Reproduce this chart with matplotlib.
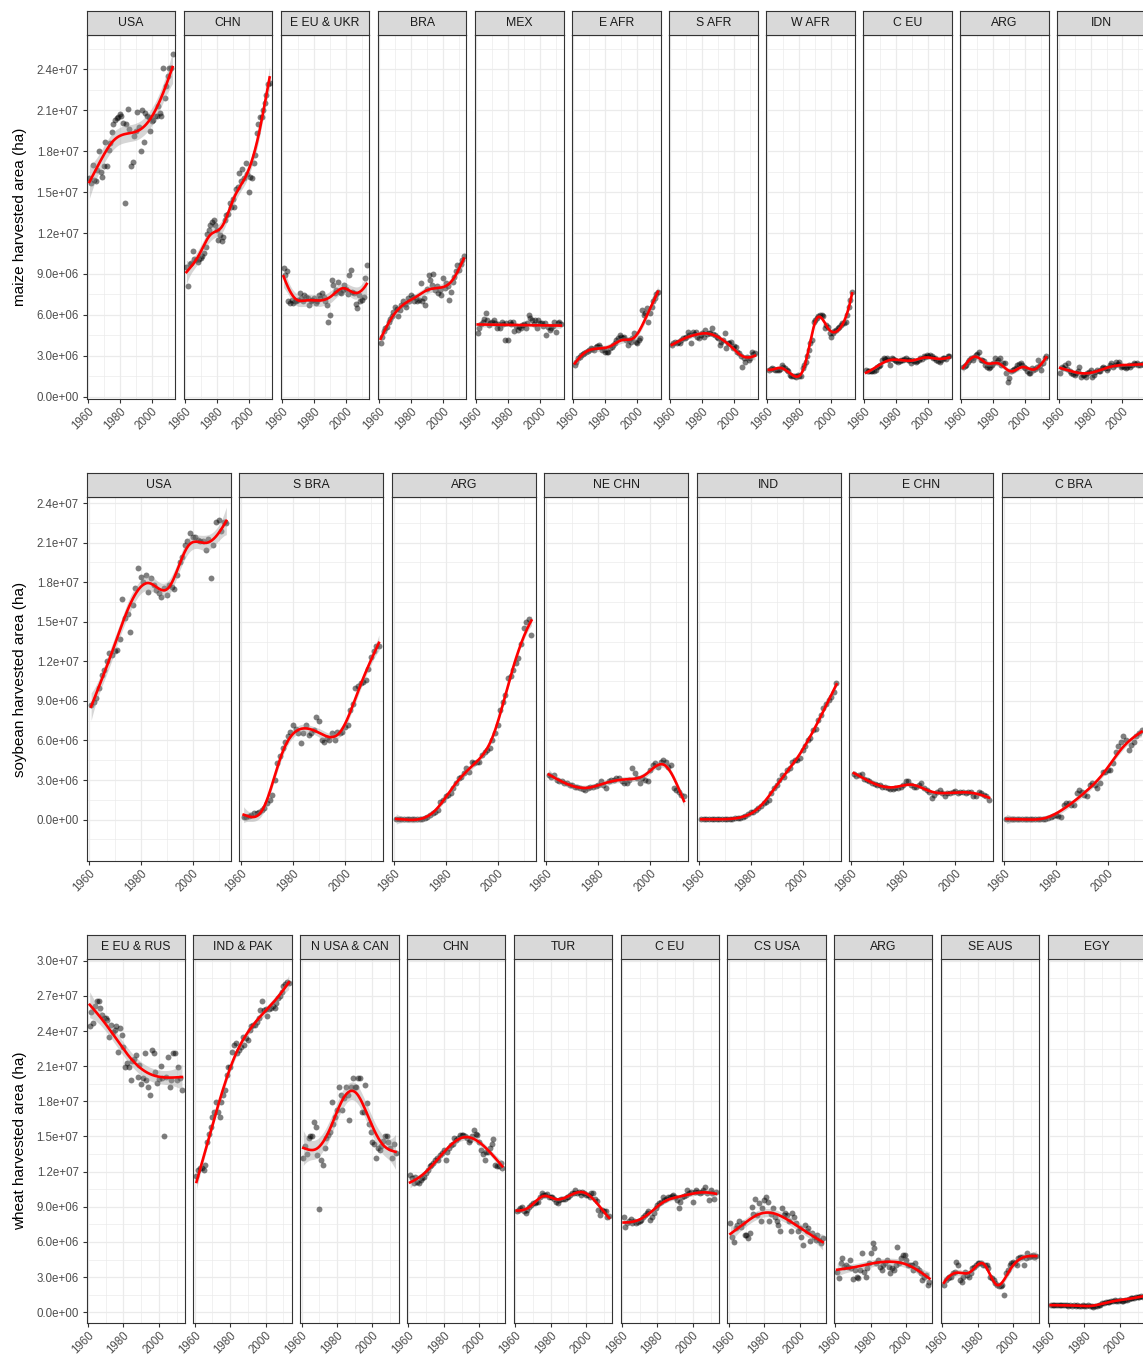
import numpy as np
import matplotlib
matplotlib.use('Agg')
import matplotlib.pyplot as plt
from matplotlib.ticker import FuncFormatter

plt.rcParams['font.family'] = ['Liberation Sans', 'DejaVu Sans']

# harvested area per year from 1961, in million ha
maize_usa = [16.0, 15.7, 17.0, 15.9, 15.8, 16.6, 18.0, 16.5, 16.1, 16.9,
             18.7, 16.9, 18.1, 18.6, 19.4, 20.0, 20.3, 20.4, 20.5, 20.7,
             20.6, 20.1, 14.2, 20.0, 21.1, 19.6, 16.9, 17.2, 19.1, 19.5,
             20.9, 19.8, 18.0, 21.0, 18.7, 20.8, 20.6, 20.5, 19.5, 20.2,
             20.3, 20.6, 20.6, 21.3, 20.8, 20.6, 24.1, 21.9, 22.8, 23.5,
             24.1, 24.1, 25.1]
maize_chn = [9.5, 8.1, 9.7, 9.8, 10.7, 10.1, 10.0, 9.9, 10.1, 10.2,
             10.3, 10.5, 11.0, 11.9, 12.2, 12.6, 12.8, 12.95, 12.6, 12.2,
             11.5, 11.85, 11.4, 11.7, 12.95, 13.3, 13.4, 14.2, 13.9, 14.5,
             13.9, 15.2, 15.4, 16.4, 15.8, 16.7, 16.0, 17.1, 16.3, 15.0,
             16.1, 16.0, 17.1, 17.7, 19.3, 20.0, 20.5, 20.5, 21.0, 21.5,
             22.1, 22.9, 23.0]
maize_eeu = [9.4, 8.9, 9.2, 7.0, 6.9, 7.1, 6.9, 7.0, 7.0, 7.1,
             7.6, 7.2, 7.0, 7.45, 7.3, 7.2, 6.7, 7.0, 7.1, 7.2,
             6.9, 7.0, 7.45, 7.2, 7.6, 7.3, 7.0, 6.7, 5.5, 6.0,
             8.55, 8.2, 7.6, 7.8, 8.4, 7.7, 7.6, 7.8, 8.2, 7.9,
             7.5, 8.9, 9.3, 7.7, 7.6, 6.8, 6.5, 7.45, 7.0, 7.1,
             7.3, 8.7, 9.65]
maize_bra = [3.9, 4.4, 4.8, 5.0, 5.1, 5.5, 5.7, 5.9, 6.2, 6.6,
             6.4, 5.9, 6.35, 6.7, 7.0, 6.8, 6.6, 7.2, 7.0, 7.45,
             7.3, 7.0, 7.2, 7.0, 7.1, 8.3, 7.0, 7.2, 6.7, 7.9,
             8.9, 8.55, 8.2, 9.0, 7.8, 8.1, 7.6, 7.8, 7.45, 8.7,
             8.0, 8.3, 8.1, 7.1, 7.7, 8.4, 8.8, 9.2, 9.65, 9.3,
             9.7, 10.0, 10.3]
maize_mex = [4.7, 5.0, 5.3, 5.5, 5.7, 6.1, 5.6, 5.25, 5.4, 5.5,
             5.6, 5.4, 5.0, 5.3, 5.0, 5.5, 5.3, 4.15, 5.4, 4.15,
             5.5, 5.3, 5.5, 4.8, 5.2, 4.9, 5.1, 5.0, 5.25, 5.3,
             5.0, 5.4, 6.0, 5.75, 5.6, 5.3, 5.6, 5.0, 5.6, 5.4,
             5.4, 5.2, 5.4, 4.5, 5.1, 4.9, 5.0, 5.2, 5.5, 4.75,
             5.4, 5.5, 5.3]
maize_eafr = [2.3, 2.55, 2.8, 2.9, 3.05, 3.1, 3.2, 3.3, 3.35, 3.4,
              3.55, 3.5, 3.4, 3.65, 3.7, 3.8, 3.65, 3.4, 3.5, 3.3,
              3.3, 3.3, 3.55, 3.65, 3.8, 3.9, 4.15, 4.3, 4.5, 4.4,
              4.3, 4.4, 4.15, 3.8, 4.15, 4.0, 4.3, 4.65, 4.0, 3.9,
              4.15, 4.3, 6.35, 6.0, 6.1, 6.5, 5.5, 6.1, 6.6, 7.0,
              7.2, 7.5, 7.7]
maize_safr = [3.8, 3.9, 4.0, 3.9, 4.0, 3.9, 4.15, 4.3, 4.3, 4.4,
              4.75, 4.5, 3.9, 4.75, 4.6, 4.75, 4.4, 4.3, 4.5, 4.65,
              4.4, 4.9, 4.6, 4.65, 4.7, 5.0, 4.6, 4.5, 4.4, 4.3,
              3.8, 4.0, 4.15, 4.65, 3.55, 3.9, 3.9, 4.0, 3.55, 3.7,
              3.65, 3.3, 3.2, 3.0, 2.2, 2.8, 2.55, 2.9, 2.7, 2.8,
              3.3, 3.1, 3.2]
maize_wafr = [1.95, 2.0, 2.1, 2.05, 1.95, 1.95, 1.95, 2.0, 2.3, 2.2,
              2.1, 1.95, 1.9, 1.6, 1.55, 1.5, 1.5, 1.45, 1.6, 1.5,
              1.5, 2.1, 2.3, 2.55, 3.0, 3.4, 3.9, 4.15, 5.5, 5.6,
              5.75, 5.9, 6.0, 6.0, 5.9, 5.0, 5.25, 5.1, 4.65, 4.4,
              4.65, 4.8, 4.9, 5.0, 5.1, 5.25, 5.4, 5.4, 5.5, 6.0,
              6.6, 7.1, 7.7]
maize_ceu = [1.95, 1.9, 1.85, 1.85, 1.85, 1.9, 1.95, 2.2, 2.25, 2.3,
             2.7, 2.8, 2.75, 2.8, 2.7, 2.3, 2.8, 2.75, 2.7, 2.6,
             2.55, 2.6, 2.7, 2.7, 2.75, 2.8, 2.7, 2.7, 2.45, 2.7,
             2.6, 2.55, 2.65, 2.7, 2.8, 2.75, 2.95, 2.9, 3.05, 3.0,
             3.05, 2.95, 2.85, 2.8, 2.7, 2.6, 2.55, 2.7, 2.8, 2.8,
             2.75, 3.0, 2.95]
maize_arg = [2.2, 2.25, 2.3, 2.55, 2.7, 2.8, 2.7, 2.9, 3.05, 3.1,
             3.3, 2.7, 2.7, 2.6, 2.3, 2.2, 2.1, 2.2, 2.3, 2.45,
             2.8, 2.55, 2.7, 2.8, 2.3, 2.45, 2.45, 1.7, 1.1, 1.35,
             1.85, 1.95, 2.0, 2.1, 2.3, 2.4, 2.45, 2.3, 2.2, 2.1,
             1.85, 1.7, 1.7, 2.1, 1.95, 2.0, 2.2, 2.7, 2.3, 1.95,
             2.5, 2.8, 2.95]
maize_idn = [1.7, 2.2, 2.1, 2.3, 2.0, 2.45, 1.85, 1.7, 1.65, 1.6,
             1.7, 1.9, 2.2, 1.45, 1.6, 1.6, 1.45, 1.7, 1.8, 1.95,
             1.45, 1.6, 1.8, 1.95, 1.85, 1.9, 2.1, 2.2, 2.1, 1.95,
             2.1, 2.3, 2.45, 2.2, 2.3, 2.55, 2.4, 2.55, 2.2, 2.25,
             2.2, 2.1, 2.2, 2.3, 2.2, 2.3, 2.45, 2.4, 2.45, 2.35,
             2.3, 2.4, 2.4]

soy_usa = [8.7, 8.9, 9.2, 9.95, 11.0, 11.35, 12.0, 12.6, 12.5, 12.75,
           12.85, 13.7, 16.7, 15.3, 15.6, 14.25, 16.3, 17.55, 19.1, 18.4,
           18.0, 18.55, 17.25, 18.3, 17.8, 17.4, 17.15, 16.9, 17.55, 17.0,
           17.8, 17.6, 17.45, 18.55, 19.5, 19.95, 20.8, 21.1, 21.7, 21.45,
           21.45, 21.2, 21.1, 21.1, 20.45, 21.3, 18.3, 20.8, 22.6, 22.7,
           21.85, 22.55, 22.5]
soy_sbra = [0.23, 0.23, 0.28, 0.35, 0.48, 0.53, 0.6, 0.73, 0.86, 1.24,
            1.5, 1.87, 3.0, 4.27, 4.8, 5.4, 5.9, 6.3, 6.65, 7.2,
            6.9, 6.55, 5.8, 6.55, 7.2, 6.4, 6.55, 6.8, 7.8, 7.45,
            6.05, 5.9, 6.15, 6.05, 6.55, 6.05, 6.65, 6.55, 6.65, 7.05,
            7.2, 8.3, 8.8, 9.95, 10.1, 10.35, 10.45, 10.6, 11.45, 12.35,
            12.75, 13.15, 13.2]
soy_arg = [0.02, 0.02, 0.02, 0.01, 0.01, 0.01, 0.02, 0.02, 0.03, 0.03,
           0.04, 0.1, 0.23, 0.35, 0.5, 0.6, 0.7, 1.36, 1.5, 1.8,
           1.9, 2.0, 2.4, 2.75, 3.13, 3.26, 3.5, 3.9, 3.64, 4.4,
           4.27, 4.4, 4.4, 4.9, 5.15, 5.3, 5.4, 6.05, 6.55, 7.2,
           8.3, 8.95, 9.45, 10.7, 10.85, 11.35, 11.85, 12.25, 13.35, 14.5,
           15.0, 15.2, 14.0]
soy_nechn = [3.4, 3.25, 3.4, 3.0, 2.9, 2.9, 2.75, 2.75, 2.65, 2.6,
             2.5, 2.5, 2.4, 2.3, 2.25, 2.4, 2.5, 2.5, 2.55, 2.65,
             2.9, 2.65, 2.4, 2.9, 3.0, 3.0, 3.13, 3.13, 2.9, 2.75,
             2.75, 3.0, 3.9, 3.5, 3.13, 2.75, 3.13, 3.0, 2.9, 3.77,
             4.15, 4.27, 4.0, 4.4, 4.5, 4.4, 4.0, 4.15, 2.4, 2.25,
             2.1, 1.9, 1.75]
soy_ind = [0.02, 0.02, 0.02, 0.02, 0.02, 0.02, 0.02, 0.03, 0.03, 0.03,
           0.03, 0.05, 0.07, 0.1, 0.1, 0.12, 0.2, 0.25, 0.4, 0.6,
           0.55, 0.7, 0.9, 1.0, 1.24, 1.36, 1.5, 2.0, 2.4, 2.63,
           3.0, 3.4, 3.26, 3.77, 3.9, 4.4, 4.5, 4.5, 4.65, 5.3,
           5.6, 6.05, 6.15, 6.8, 6.9, 7.55, 7.9, 8.45, 8.8, 9.05,
           9.3, 9.7, 10.35]
soy_echn = [3.46, 3.3, 3.4, 3.46, 3.05, 3.0, 2.9, 2.75, 2.7, 2.63,
            2.63, 2.5, 2.5, 2.4, 2.3, 2.35, 2.4, 2.4, 2.5, 2.6,
            2.9, 2.9, 2.63, 2.5, 2.5, 2.63, 2.75, 2.4, 2.25, 2.1,
            1.6, 1.87, 2.1, 2.25, 2.05, 1.75, 2.0, 2.05, 2.1, 2.2,
            2.05, 2.1, 2.1, 2.05, 2.1, 2.1, 1.75, 1.75, 2.1, 2.05,
            1.87, 1.75, 1.5]
soy_cbra = [0.03, 0.03, 0.03, 0.03, 0.03, 0.03, 0.03, 0.03, 0.03, 0.04,
            0.04, 0.05, 0.06, 0.07, 0.08, 0.08, 0.1, 0.23, 0.25, 0.35,
            0.3, 0.23, 1.1, 1.24, 1.24, 1.1, 1.1, 2.0, 2.25, 2.1,
            1.87, 1.75, 2.63, 2.75, 2.63, 2.4, 2.75, 3.64, 3.64, 3.77,
            3.77, 4.27, 5.15, 5.6, 5.9, 6.3, 6.05, 5.3, 5.65, 5.9,
            6.3, 6.55, 6.8]

wheat_eeu = [24.4, 25.65, 24.7, 26.1, 26.55, 26.55, 26.0, 25.4, 25.1, 25.1,
             24.9, 23.45, 24.5, 23.95, 24.1, 24.4, 22.25, 24.3, 23.65, 22.65,
             20.95, 21.25, 20.95, 19.8, 21.4, 21.65, 21.95, 20.1, 21.1, 19.5,
             19.95, 22.1, 19.8, 19.25, 18.5, 22.4, 22.15, 20.5, 19.6, 19.9,
             21.0, 20.0, 15.0, 20.1, 21.8, 19.2, 19.8, 22.1, 22.1, 19.8,
             20.9, 20.0, 19.0]
wheat_indpak = [11.6, 12.15, 12.3, 12.3, 12.1, 12.55, 14.55, 15.25, 15.85, 16.7,
                17.1, 17.95, 17.1, 16.7, 17.95, 18.55, 19.0, 20.25, 20.95, 20.95,
                22.25, 22.8, 22.95, 22.1, 22.4, 22.65, 23.5, 22.8, 23.4, 23.25,
                24.1, 24.4, 24.5, 24.5, 24.8, 25.1, 25.8, 26.55, 25.8, 25.85,
                25.3, 25.85, 25.95, 26.1, 26.0, 26.4, 26.8, 27.0, 27.35, 27.8,
                28.05, 28.2, 28.1]
wheat_nusa = [13.15, 14.15, 13.5, 14.85, 15.0, 15.0, 16.25, 15.85, 13.4, 8.85,
              13.0, 12.55, 14.0, 14.85, 15.15, 15.4, 17.95, 16.1, 16.7, 17.25,
              19.25, 18.55, 17.25, 18.25, 19.25, 18.55, 16.4, 19.25, 19.95, 19.25,
              19.25, 19.95, 19.95, 17.1, 17.1, 19.4, 17.85, 16.1, 15.4, 14.55,
              14.4, 13.15, 14.0, 13.85, 14.15, 14.6, 15.0, 15.0, 14.55, 14.0,
              13.15, 14.4, 13.6]
wheat_chn = [11.7, 11.5, 11.0, 11.55, 11.15, 11.0, 11.3, 11.45, 11.55, 11.85,
             12.15, 12.45, 12.6, 12.7, 13.0, 13.15, 13.0, 13.4, 13.55, 13.85,
             13.0, 13.7, 14.0, 14.3, 14.4, 14.85, 14.7, 14.85, 15.15, 15.1,
             15.15, 15.0, 14.85, 14.55, 14.7, 15.0, 15.55, 15.25, 15.15, 14.55,
             13.85, 13.5, 13.0, 13.7, 13.7, 14.0, 14.4, 14.75, 12.55, 12.5,
             12.45, 12.7, 12.35]
wheat_tur = [8.6, 8.75, 8.9, 8.95, 8.6, 8.45, 8.7, 9.0, 9.15, 9.3,
             9.3, 9.45, 9.45, 9.85, 10.15, 10.0, 10.0, 10.05, 9.85, 9.85,
             9.85, 9.7, 9.45, 9.3, 9.6, 9.7, 9.7, 9.7, 9.85, 9.85,
             10.0, 10.15, 10.15, 10.45, 10.15, 10.3, 10.0, 10.3, 10.15, 10.0,
             10.0, 9.85, 10.15, 10.15, 9.7, 9.5, 8.75, 8.3, 8.75, 8.6,
             8.6, 8.15, 8.2]
wheat_ceu = [8.15, 7.3, 7.6, 7.8, 8.0, 7.6, 7.75, 7.6, 7.7, 7.75,
             7.9, 8.15, 8.3, 8.45, 8.6, 7.9, 8.15, 8.45, 8.9, 9.15,
             9.3, 9.45, 9.85, 9.6, 9.7, 9.85, 9.85, 9.9, 10.0, 9.85,
             9.6, 8.9, 9.45, 9.85, 9.9, 10.0, 10.45, 10.15, 10.3, 9.45,
             10.3, 10.45, 10.3, 10.15, 10.3, 10.45, 10.7, 10.15, 9.6, 10.45,
             10.2, 9.7, 10.3]
wheat_csusa = [7.6, 6.45, 6.0, 7.15, 7.45, 7.75, 7.3, 7.6, 6.6, 6.6,
               6.3, 6.75, 9.0, 8.4, 9.7, 8.3, 9.3, 7.75, 8.9, 9.6,
               9.85, 9.4, 7.75, 8.4, 8.9, 8.1, 7.75, 7.45, 6.9, 8.9,
               8.3, 8.5, 8.3, 7.8, 6.9, 8.45, 8.15, 7.6, 6.9, 7.2,
               6.45, 5.75, 7.45, 6.9, 7.15, 6.05, 6.75, 6.4, 6.15, 6.6,
               6.2, 5.9, 6.3]
wheat_arg = [3.4, 2.9, 4.2, 4.6, 3.9, 4.05, 3.9, 4.45, 3.75, 2.8,
             3.6, 3.05, 2.9, 3.6, 5.05, 3.4, 3.05, 3.75, 4.2, 5.05,
             5.9, 5.45, 4.2, 4.45, 3.9, 3.6, 4.05, 4.2, 4.45, 3.9,
             3.35, 3.75, 3.6, 4.0, 5.6, 4.2, 4.6, 4.9, 4.9, 4.5,
             4.05, 4.05, 4.05, 3.6, 4.2, 3.75, 3.6, 3.35, 2.75, 3.05,
             3.2, 2.35, 2.6]
wheat_seaus = [2.35, 2.75, 2.9, 3.05, 3.05, 3.35, 3.45, 4.3, 4.05, 2.75,
               2.6, 3.05, 3.45, 3.2, 3.05, 3.35, 3.75, 3.9, 4.05, 4.2,
               4.2, 4.2, 4.05, 4.05, 4.05, 3.75, 3.05, 2.9, 2.75, 2.5,
               2.35, 2.2, 2.2, 2.35, 1.5, 3.35, 3.6, 4.05, 4.2, 4.3,
               4.2, 4.05, 4.6, 4.7, 4.75, 4.05, 4.6, 5.05, 4.75, 4.8,
               4.9, 4.75, 4.8]
wheat_egy = [0.6, 0.62, 0.6, 0.58, 0.6, 0.6, 0.58, 0.6, 0.58, 0.6,
             0.56, 0.58, 0.56, 0.58, 0.56, 0.58, 0.56, 0.56, 0.58, 0.56,
             0.56, 0.58, 0.56, 0.52, 0.48, 0.5, 0.56, 0.58, 0.6, 0.76,
             0.82, 0.86, 0.88, 0.88, 0.98, 1.0, 1.02, 1.0, 1.0, 1.02,
             0.98, 1.0, 1.03, 1.05, 1.15, 1.25, 1.2, 1.25, 1.3, 1.3,
             1.3, 1.35, 1.3]

maize_names = ['USA', 'CHN', 'E EU & UKR', 'BRA', 'MEX', 'E AFR', 'S AFR',
               'W AFR', 'C EU', 'ARG', 'IDN']
maize_data = [maize_usa, maize_chn, maize_eeu, maize_bra, maize_mex, maize_eafr,
              maize_safr, maize_wafr, maize_ceu, maize_arg, maize_idn]
soy_names = ['USA', 'S BRA', 'ARG', 'NE CHN', 'IND', 'E CHN', 'C BRA']
soy_data = [soy_usa, soy_sbra, soy_arg, soy_nechn, soy_ind, soy_echn, soy_cbra]
wheat_names = ['E EU & RUS', 'IND & PAK', 'N USA & CAN', 'CHN', 'TUR', 'C EU',
               'CS USA', 'ARG', 'SE AUS', 'EGY']
wheat_data = [wheat_eeu, wheat_indpak, wheat_nusa, wheat_chn, wheat_tur, wheat_ceu,
              wheat_csusa, wheat_arg, wheat_seaus, wheat_egy]


def bspline_basis(x, lo, hi, nseg, deg=3):
    dx = (hi - lo) / nseg
    knots = lo + dx * np.arange(-deg, nseg + deg + 1)
    x = np.asarray(x, float)
    B = np.zeros((len(x), len(knots) - 1))
    for i in range(len(knots) - 1):
        B[:, i] = (x >= knots[i]) & (x < knots[i + 1])
    for d in range(1, deg + 1):
        Bn = np.zeros((len(x), len(knots) - 1 - d))
        for i in range(len(knots) - 1 - d):
            a = (x - knots[i]) / (knots[i + d] - knots[i])
            b = (knots[i + d + 1] - x) / (knots[i + d + 1] - knots[i + 1])
            Bn[:, i] = a * B[:, i] + b * B[:, i + 1]
        B = Bn
    return B


def smooth(x, y, nseg=7, stiff=3.0):
    """penalised spline, smoothing picked by REML (then stiffened a bit), with se"""
    lo, hi = x.min(), x.max()
    B = bspline_basis(x, lo, hi, nseg)
    nb = B.shape[1]
    D = np.diff(np.eye(nb), 2, axis=0)
    P = D.T @ D
    r = nb - 2
    n = len(y)
    BtB, Bty = B.T @ B, B.T @ y
    best = None
    for lam in np.logspace(-4, 6, 121):
        A = BtB + lam * P
        beta = np.linalg.solve(A, Bty)
        res = y - B @ beta
        pen = res @ res + lam * beta @ P @ beta
        score = (n - 2) * np.log(pen) + np.linalg.slogdet(A)[1] - r * np.log(lam)
        if best is None or score < best[0]:
            best = (score, lam)
    lam = best[1] * stiff
    Ainv = np.linalg.inv(BtB + lam * P)
    beta = Ainv @ Bty
    res = y - B @ beta
    tr = np.trace(B @ Ainv @ B.T)
    xg = np.linspace(lo, hi, 150)
    Bg = bspline_basis(xg, lo, hi, nseg)
    fit = Bg @ beta
    s2 = (res @ res) / (n - tr)
    se = np.sqrt(s2 * np.sum((Bg @ Ainv) * Bg, axis=1))
    return xg, fit, se


W, H = 1143, 1357
fig = plt.figure(figsize=(W / 100, H / 100), dpi=100)

rows = [
    dict(title='maize harvested area (ha)', names=maize_names, data=maize_data,
         strip_top=11, top=35, bottom=399, ylim=(-0.17e6, 26.52e6), ymax=24e6),
    dict(title='soybean harvested area (ha)', names=soy_names, data=soy_data,
         strip_top=472.7, top=497.3, bottom=860.7, ylim=(-3.12e6, 24.44e6), ymax=24e6),
    dict(title='wheat harvested area (ha)', names=wheat_names, data=wheat_data,
         strip_top=934.7, top=959.3, bottom=1322.7, ylim=(-0.89e6, 30.12e6), ymax=30e6),
]

left, right_end, gap = 86.7, 1146.0, 8.5
sci = FuncFormatter(lambda v, p: f'{v:.1e}')

for row in rows:
    n = len(row['names'])
    pw = (right_end - left - (n - 1) * gap) / n
    top, bottom = row['top'], row['bottom']
    yt = np.arange(0, row['ymax'] + 1, 3e6)
    ym = np.arange(-1.5e6, row['ylim'][1], 3e6)
    ym = ym[ym > row['ylim'][0]]
    for j, (name, vals) in enumerate(zip(row['names'], row['data'])):
        x0 = left + j * (pw + gap)
        ax = fig.add_axes([x0 / W, 1 - bottom / H, pw / W, (bottom - top) / H])
        v = np.array(vals, float)
        yrs = 1961 + np.arange(len(v))
        xg, fit, se = smooth(yrs.astype(float), v)

        ax.scatter(yrs, v * 1e6, s=18, color='black', alpha=0.5, lw=0, zorder=3)
        ax.fill_between(xg, (fit - 2.0 * se) * 1e6, (fit + 2.0 * se) * 1e6,
                        color='#999999', alpha=0.4, lw=0, zorder=4)
        ax.plot(xg, fit * 1e6, color='red', lw=1.9, zorder=5)

        ax.set_xlim(1959.3, 2014.7)
        ax.set_ylim(*row['ylim'])
        ax.set_xticks([1960, 1980, 2000])
        ax.set_xticklabels(['1960', '1980', '2000'], rotation=45, ha='right',
                           va='top', rotation_mode='anchor')
        ax.set_xticks([1970, 1990, 2010], minor=True)
        ax.set_yticks(yt)
        ax.set_yticks(ym, minor=True)
        ax.yaxis.set_major_formatter(sci)
        ax.grid(which='major', color='#EBEBEB', lw=0.9)
        ax.grid(which='minor', color='#EBEBEB', lw=0.5)
        ax.set_axisbelow(True)
        ax.tick_params(which='major', length=3.2, width=0.8, color='#333333',
                       labelsize=8.3, labelcolor='#4D4D4D')
        ax.tick_params(axis='x', which='major', pad=1.5)
        ax.tick_params(axis='y', which='major', pad=2.5)
        ax.tick_params(which='minor', length=0)
        if j > 0:
            ax.tick_params(axis='y', left=False, labelleft=False)
        for s in ax.spines.values():
            s.set_color('#333333')
            s.set_linewidth(0.8)

        st = fig.add_axes([x0 / W, 1 - top / H, pw / W, (top - row['strip_top']) / H])
        st.set_facecolor('#D9D9D9')
        st.set_xticks([])
        st.set_yticks([])
        for s in st.spines.values():
            s.set_color('#333333')
            s.set_linewidth(0.8)
        st.text(0.5, 0.5, name, ha='center', va='center', fontsize=8.8,
                color='#1A1A1A', transform=st.transAxes)

    fig.text(20 / W, 1 - (top + bottom) / 2 / H, row['title'], rotation=90,
             ha='center', va='center', fontsize=11)

fig.savefig('out.png', dpi=100)
